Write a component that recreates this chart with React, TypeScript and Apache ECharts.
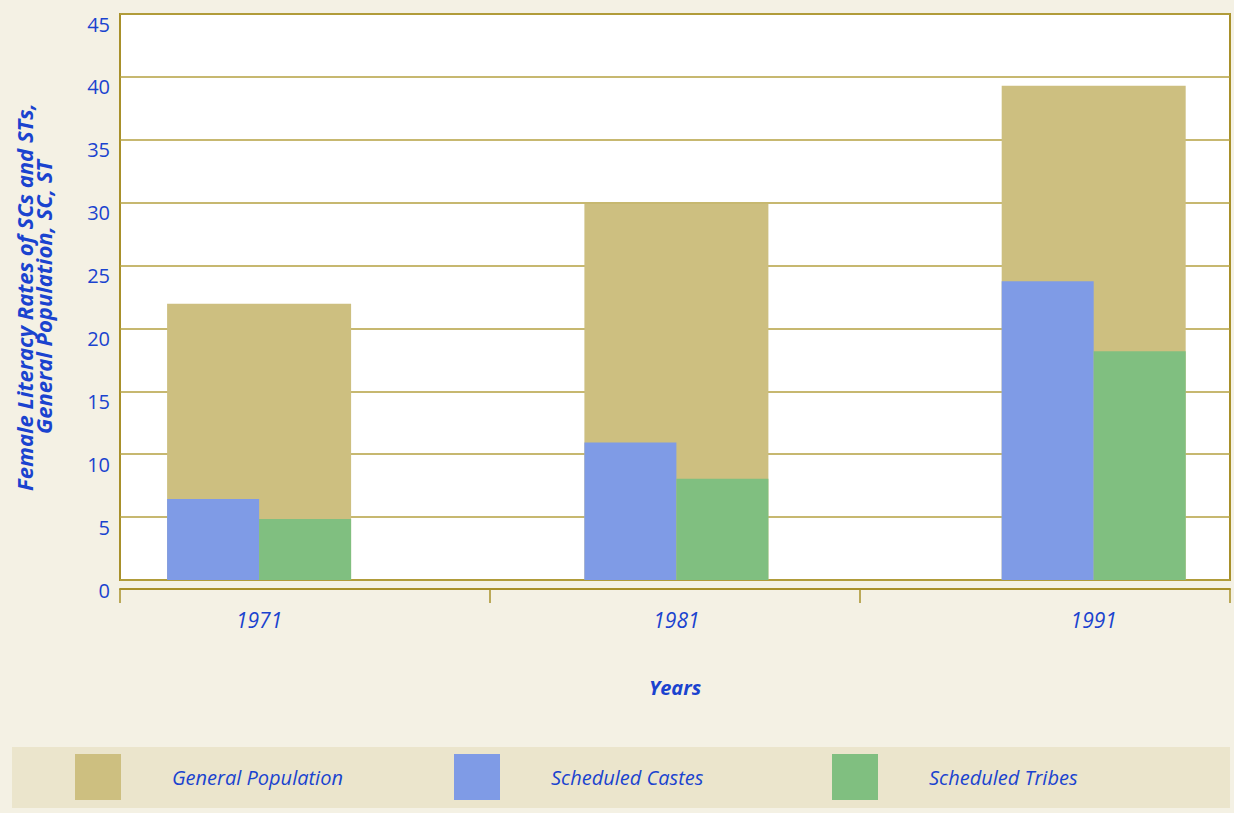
import React, { useEffect, useRef } from "react";
import * as echarts from "echarts";

const years = ["1971", "1981", "1991"];
const generalPopulation = [21.97, 29.9, 39.29];
const scheduledCastes = [6.44, 10.93, 23.76];
const scheduledTribes = [4.85, 8.04, 18.19];
const yTicks = { min: 0, max: 45, interval: 5 };

const BLUE = "#1a43cf";
const OLIVE = "#a8902a";
const FONT = "Open Sans";

export default function App() {
  const ref = useRef<HTMLDivElement>(null);
  useEffect(() => {
    document.body.style.margin = "0";
    const chart = echarts.init(ref.current!, null, { renderer: "svg" });
    // each year sits at position 1 + 3*i on a value axis
    const pos = years.map((_, i) => 1 + 3 * i);
    const yearAt: Record<number, string> = {};
    pos.forEach((p, i) => (yearAt[p] = years[i]));
    const xMax = 7.98;
    const legendBase = {
      top: 754,
      padding: 0,
      itemWidth: 46,
      itemHeight: 46,
      icon: "rect",
      textStyle: {
        fontFamily: FONT,
        fontStyle: "italic",
        fontSize: 20,
        color: BLUE,
        padding: [0, 0, 0, 46],
      },
    };
    chart.setOption({
      animation: false,
      backgroundColor: "#f4f1e4",
      textStyle: { fontFamily: FONT },
      grid: {
        left: 120,
        top: 14,
        right: 4,
        bottom: 233,
        show: true,
        backgroundColor: "#ffffff",
        borderColor: OLIVE,
        borderWidth: 2,
      },
      graphic: [
        {
          type: "rect",
          z: 0,
          shape: { x: 12, y: 747, width: 1218, height: 61 },
          style: { fill: "#ebe5cc" },
        },
      ],
      legend: [
        { ...legendBase, left: 75, data: ["General Population"] },
        { ...legendBase, left: 454, data: ["Scheduled Castes"] },
        { ...legendBase, left: 832, data: ["Scheduled Tribes"] },
      ],
      xAxis: [
        {
          type: "value",
          min: 0,
          max: xMax,
          interval: 1,
          axisLine: { show: false },
          axisTick: { show: false },
          splitLine: { show: false },
          axisLabel: {
            margin: 29,
            fontSize: 21,
            fontStyle: "italic",
            color: BLUE,
            fontFamily: FONT,
            showMaxLabel: false,
            formatter: (v: number) => yearAt[v] || "",
          },
          name: "Years",
          nameLocation: "middle",
          nameGap: 97,
          nameTextStyle: {
            fontSize: 20,
            fontStyle: "italic",
            fontWeight: "bold",
            color: BLUE,
            fontFamily: FONT,
          },
        },
        {
          type: "value",
          min: 0,
          max: xMax,
          show: false,
        },
        {
          type: "category",
          data: years,
          position: "bottom",
          offset: 9,
          boundaryGap: true,
          axisLine: { show: true, lineStyle: { color: OLIVE, width: 2 } },
          axisTick: { show: true, length: 14, interval: 0, lineStyle: { color: OLIVE, width: 1.5 } },
          axisLabel: { show: false },
          splitLine: { show: false },
        },
      ],
      yAxis: {
        type: "value",
        min: yTicks.min,
        max: yTicks.max,
        interval: yTicks.interval,
        axisLine: { show: false },
        axisTick: { show: false },
        splitLine: { show: true, lineStyle: { color: "#b5a040", width: 1.5 } },
        axisLabel: {
          fontSize: 20,
          color: BLUE,
          fontFamily: FONT,
          margin: 10,
          verticalAlign: "top",
        },
        name: "Female Literacy Rates of SCs and STs,\nGeneral Population, SC, ST",
        nameLocation: "middle",
        nameRotate: 90,
        nameGap: 68,
        nameTextStyle: {
          fontSize: 22,
          fontStyle: "italic",
          fontWeight: "bold",
          color: BLUE,
          fontFamily: FONT,
          lineHeight: 19,
          align: "center",
        },
      },
      series: [
        {
          name: "General Population",
          type: "bar",
          xAxisIndex: 0,
          barWidth: 184,
          itemStyle: { color: "#cdbf80" },
          data: pos.map((p, i) => [p, generalPopulation[i]]),
        },
        {
          name: "Scheduled Castes",
          type: "bar",
          xAxisIndex: 1,
          barWidth: 92,
          barGap: 0,
          itemStyle: { color: "#7f9be6" },
          data: pos.map((p, i) => [p, scheduledCastes[i]]),
        },
        {
          name: "Scheduled Tribes",
          type: "bar",
          xAxisIndex: 1,
          barWidth: 92,
          barGap: 0,
          itemStyle: { color: "#80bf80" },
          data: pos.map((p, i) => [p, scheduledTribes[i]]),
        },
      ],
    });
    return () => chart.dispose();
  }, []);
  return (
    <div
      ref={ref}
      style={{ position: "absolute", left: 0, top: 0, width: 1234, height: 813 }}
    />
  );
}
